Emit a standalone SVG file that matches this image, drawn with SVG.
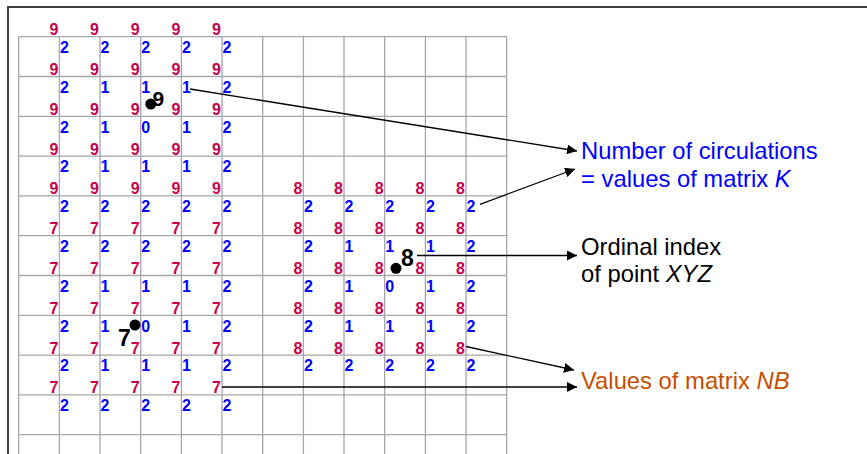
<svg xmlns="http://www.w3.org/2000/svg" width="867" height="454" viewBox="0 0 867 454">
<style>
.g{stroke:#a6a6a6;stroke-width:1.3;fill:none}
.fr{stroke:#404040;stroke-width:2;fill:none}
.r{font-family:"Liberation Sans",Arial,sans-serif;font-weight:bold;font-size:16px;fill:#c8004a}
.b{font-family:"Liberation Sans",Arial,sans-serif;font-weight:bold;font-size:16px;fill:#0000ff}
.big{font-family:"Liberation Sans",Arial,sans-serif;font-weight:bold;fill:#000}
.lbl{font-family:"Liberation Sans",Arial,sans-serif;font-size:23.8px}
.c{stroke:#000;stroke-width:1.3;fill:none;marker-end:url(#ah)}
</style>
<defs>
<marker id="ah" markerUnits="userSpaceOnUse" markerWidth="10" markerHeight="10" viewBox="0 0 10 10" refX="10" refY="5" orient="auto"><path d="M0,0 L10,5 L0,10 z" fill="#000"/></marker>
</defs>
<rect width="867" height="454" fill="#fff"/>
<g id="frame">
<path class="fr" d="M8,454 V7 H867"/>
</g>
<g id="grid" class="g">
<path d="M18.7,36.7 V454 M59.4,36.7 V454 M100,36.7 V454 M140.7,36.7 V454 M181.4,36.7 V454 M222,36.7 V454 M262.7,36.7 V454 M303.4,36.7 V454 M344,36.7 V454 M384.7,36.7 V454 M425.4,36.7 V454 M466,36.7 V454 M506.7,36.7 V454"/>
<path d="M18.7,36.7 H506.7 M18.7,76.5 H506.7 M18.7,116.3 H506.7 M18.7,156.1 H506.7 M18.7,195.9 H506.7 M18.7,235.7 H506.7 M18.7,275.5 H506.7 M18.7,315.3 H506.7 M18.7,355.1 H506.7 M18.7,394.9 H506.7 M18.7,434.7 H506.7"/>
</g>
<g id="matrixNB-left">
<text class="r" x="49.5 90.1 130.8 171.5 212.1" y="35.2">99999</text>
<text class="r" x="49.5 90.1 130.8 171.5 212.1" y="75">99999</text>
<text class="r" x="49.5 90.1 130.8 171.5 212.1" y="114.8">99999</text>
<text class="r" x="49.5 90.1 130.8 171.5 212.1" y="154.6">99999</text>
<text class="r" x="49.5 90.1 130.8 171.5 212.1" y="194.4">99999</text>
<text class="r" x="49.5 90.1 130.8 171.5 212.1" y="234.2">77777</text>
<text class="r" x="49.5 90.1 130.8 171.5 212.1" y="274">77777</text>
<text class="r" x="49.5 90.1 130.8 171.5 212.1" y="313.8">77777</text>
<text class="r" x="49.5 90.1 130.8 171.5 212.1" y="353.6">77777</text>
<text class="r" x="49.5 90.1 130.8 171.5 212.1" y="393.4">77777</text>
</g>
<g id="matrixK-left">
<text class="b" x="59.9 100.5 141.2 181.9 222.5" y="53">22222</text>
<text class="b" x="59.9 100.5 141.2 181.9 222.5" y="92.8">21112</text>
<text class="b" x="59.9 100.5 141.2 181.9 222.5" y="132.6">21012</text>
<text class="b" x="59.9 100.5 141.2 181.9 222.5" y="172.4">21112</text>
<text class="b" x="59.9 100.5 141.2 181.9 222.5" y="212.2">22222</text>
<text class="b" x="59.9 100.5 141.2 181.9 222.5" y="252">22222</text>
<text class="b" x="59.9 100.5 141.2 181.9 222.5" y="291.8">21112</text>
<text class="b" x="59.9 100.5 141.2 181.9 222.5" y="331.6">21012</text>
<text class="b" x="59.9 100.5 141.2 181.9 222.5" y="371.4">21112</text>
<text class="b" x="59.9 100.5 141.2 181.9 222.5" y="411.2">22222</text>
</g>
<g id="matrixNB-right">
<text class="r" x="293.5 334.1 374.8 415.5 456.1" y="194.4">88888</text>
<text class="r" x="293.5 334.1 374.8 415.5 456.1" y="234.2">88888</text>
<text class="r" x="293.5 334.1 374.8 415.5 456.1" y="274">88888</text>
<text class="r" x="293.5 334.1 374.8 415.5 456.1" y="313.8">88888</text>
<text class="r" x="293.5 334.1 374.8 415.5 456.1" y="353.6">88888</text>
</g>
<g id="matrixK-right">
<text class="b" x="303.9 344.5 385.2 425.9 466.5" y="212.2">22222</text>
<text class="b" x="303.9 344.5 385.2 425.9 466.5" y="252">21112</text>
<text class="b" x="303.9 344.5 385.2 425.9 466.5" y="291.8">21012</text>
<text class="b" x="303.9 344.5 385.2 425.9 466.5" y="331.6">21112</text>
<text class="b" x="303.9 344.5 385.2 425.9 466.5" y="371.4">22222</text>
</g>
<g id="point9">
<circle cx="150.8" cy="104" r="5.5" fill="#000"/>
<text class="big" x="152.5" y="106" font-size="21">9</text>
</g>
<g id="point8">
<circle cx="396" cy="268.3" r="5.5" fill="#000"/>
<text class="big" x="401" y="265.5" font-size="23">8</text>
</g>
<g id="point7">
<circle cx="135" cy="325" r="5.5" fill="#000"/>
<text class="big" x="118" y="345.5" font-size="23">7</text>
</g>
<g id="connectors">
<path class="c" d="M190,89 L577,151"/>
<path class="c" d="M480,204.3 L575,169"/>
<path class="c" d="M417,255.5 L577,255.5"/>
<path class="c" d="M466,346.5 L574,370"/>
<path class="c" d="M222,387 L577,387"/>
</g>
<g id="label-K">
<text class="lbl" fill="#0000ff" x="581" y="158.5">Number of circulations</text>
<text class="lbl" fill="#0000ff" x="581" y="186.5">= values of matrix <tspan font-style="italic">K</tspan></text>
</g>
<g id="label-XYZ">
<text class="lbl" fill="#000" x="581" y="255">Ordinal index</text>
<text class="lbl" fill="#000" x="581" y="282">of point <tspan font-style="italic">XYZ</tspan></text>
</g>
<g id="label-NB">
<text class="lbl" fill="#c45000" x="581" y="388.5">Values of matrix <tspan font-style="italic">NB</tspan></text>
</g>
</svg>
